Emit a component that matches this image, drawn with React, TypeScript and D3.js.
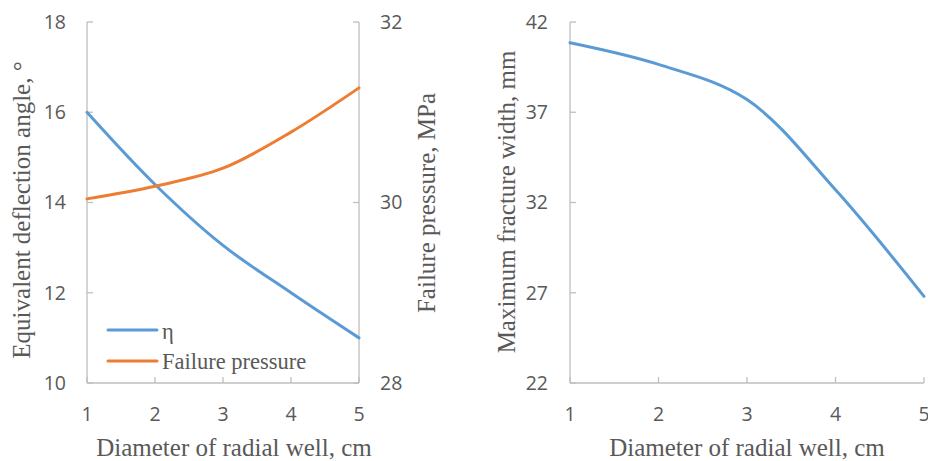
import React from "react";
import * as d3 from "d3";

const diameters = [1, 2, 3, 4, 5];
const etaValues = [16, 14.4, 13.05, 12.0, 11.0];
const failurePressure = [30.04, 30.18, 30.38, 30.78, 31.27];
const fractureWidth = [40.85, 39.65, 37.7, 32.7, 26.8];
const leftTicks = [10, 12, 14, 16, 18];
const rightTicks = [28, 30, 32];
const widthTicks = [22, 27, 32, 37, 42];
const xTicks = [1, 2, 3, 4, 5];

const W = 928;
const H = 461;
const AXIS = "#bfbfbf";
const TXT = "#595959";
const BLUE = "#5b9bd5";
const ORANGE = "#ed7d31";
const SANS = "'Open Sans', 'Liberation Sans', sans-serif";
const SERIF = "'Liberation Serif', 'Times New Roman', serif";
const TICK_FS = 19.5;
const TITLE_FS = 25;

export default function App() {
  const top = 22, bottom = 383;
  // left panel
  const xL = d3.scaleLinear().domain([1, 5]).range([87, 359]);
  const yL = d3.scaleLinear().domain([10, 18]).range([bottom, top]);
  const yR = d3.scaleLinear().domain([28, 32]).range([bottom, top]);
  // right panel
  const x2 = d3.scaleLinear().domain([1, 5]).range([570, 924]);
  const y2 = d3.scaleLinear().domain([22, 42]).range([bottom, top]);

  const curve = d3.curveCatmullRom.alpha(0.5);
  const etaLine = d3.line<number>().x((_, i) => xL(diameters[i])).y((d) => yL(d)).curve(curve);
  const fpLine = d3.line<number>().x((_, i) => xL(diameters[i])).y((d) => yR(d)).curve(curve);
  const fwLine = d3.line<number>().x((_, i) => x2(diameters[i])).y((d) => y2(d)).curve(curve);

  const tickLen = 6;

  return (
    <svg width={W} height={H} style={{ position: "absolute", left: 0, top: 0, background: "#fff" }}>
      <rect x={0} y={0} width={W} height={H} fill="#fff" />
      {/* ===== Left panel ===== */}
      <g>
        <line x1={xL(1)} x2={xL(1)} y1={top} y2={bottom} stroke={AXIS} strokeWidth={1.3} />
        <line x1={xL(5)} x2={xL(5)} y1={top} y2={bottom} stroke={AXIS} strokeWidth={1.3} />
        <line x1={xL(1)} x2={xL(5)} y1={bottom} y2={bottom} stroke={AXIS} strokeWidth={1.3} />
        {leftTicks.map((t) => (
          <g key={"l" + t}>
            <line x1={xL(1)} x2={xL(1) + tickLen} y1={yL(t)} y2={yL(t)} stroke={AXIS} strokeWidth={1.3} />
            <text x={66} y={yL(t)} dy="0.35em" textAnchor="end" fontFamily={SANS} fontSize={TICK_FS} fill={TXT}>{t}</text>
          </g>
        ))}
        {rightTicks.map((t) => (
          <g key={"r" + t}>
            <line x1={xL(5) - tickLen} x2={xL(5)} y1={yR(t)} y2={yR(t)} stroke={AXIS} strokeWidth={1.3} />
            <text x={380} y={yR(t)} dy="0.35em" textAnchor="start" fontFamily={SANS} fontSize={TICK_FS} fill={TXT}>{t}</text>
          </g>
        ))}
        {xTicks.map((t) => (
          <g key={"x" + t}>
            <line x1={xL(t)} x2={xL(t)} y1={bottom} y2={bottom - tickLen} stroke={AXIS} strokeWidth={1.3} />
            <text x={xL(t)} y={414} dy="0.35em" textAnchor="middle" fontFamily={SANS} fontSize={TICK_FS} fill={TXT}>{t}</text>
          </g>
        ))}
        <path d={etaLine(etaValues) ?? ""} fill="none" stroke={BLUE} strokeWidth={3} strokeLinecap="round" />
        <path d={fpLine(failurePressure) ?? ""} fill="none" stroke={ORANGE} strokeWidth={3} strokeLinecap="round" />
        <text x={234} y={447} dy="0.35em" textAnchor="middle" fontFamily={SERIF} fontSize={TITLE_FS} fill={TXT}>Diameter of radial well, cm</text>
        <text transform={`translate(21,210) rotate(-90)`} textAnchor="middle" dy="0.35em" fontFamily={SERIF} fontSize={TITLE_FS} fill={TXT}>Equivalent deflection angle, °</text>
        <text transform={`translate(426,203) rotate(-90)`} textAnchor="middle" dy="0.35em" fontFamily={SERIF} fontSize={TITLE_FS} fill={TXT}>Failure pressure, MPa</text>
        {/* legend */}
        <line x1={108} x2={157} y1={330} y2={330} stroke={BLUE} strokeWidth={3} strokeLinecap="round" />
        <text x={162} y={331} dy="0.35em" fontFamily={SERIF} fontSize={22.5} fill={TXT}>η</text>
        <line x1={108} x2={157} y1={361} y2={361} stroke={ORANGE} strokeWidth={3} strokeLinecap="round" />
        <text x={162} y={361} dy="0.35em" fontFamily={SERIF} fontSize={22.5} fill={TXT}>Failure pressure</text>
      </g>
      {/* ===== Right panel ===== */}
      <g>
        <line x1={x2(1)} x2={x2(1)} y1={top} y2={bottom} stroke={AXIS} strokeWidth={1.3} />
        <line x1={x2(1)} x2={x2(5)} y1={bottom} y2={bottom} stroke={AXIS} strokeWidth={1.3} />
        {widthTicks.map((t) => (
          <g key={"w" + t}>
            <line x1={x2(1)} x2={x2(1) + tickLen} y1={y2(t)} y2={y2(t)} stroke={AXIS} strokeWidth={1.3} />
            <text x={548} y={y2(t)} dy="0.35em" textAnchor="end" fontFamily={SANS} fontSize={TICK_FS} fill={TXT}>{t}</text>
          </g>
        ))}
        {xTicks.map((t) => (
          <g key={"x2" + t}>
            <line x1={x2(t)} x2={x2(t)} y1={bottom} y2={bottom - tickLen} stroke={AXIS} strokeWidth={1.3} />
            <text x={x2(t)} y={414} dy="0.35em" textAnchor="middle" fontFamily={SANS} fontSize={TICK_FS} fill={TXT}>{t}</text>
          </g>
        ))}
        <path d={fwLine(fractureWidth) ?? ""} fill="none" stroke={BLUE} strokeWidth={3} strokeLinecap="round" />
        <text x={747} y={447} dy="0.35em" textAnchor="middle" fontFamily={SERIF} fontSize={TITLE_FS} fill={TXT}>Diameter of radial well, cm</text>
        <text transform={`translate(506,202) rotate(-90)`} textAnchor="middle" dy="0.35em" fontFamily={SERIF} fontSize={TITLE_FS} fill={TXT}>Maximum fracture width, mm</text>
      </g>
    </svg>
  );
}
